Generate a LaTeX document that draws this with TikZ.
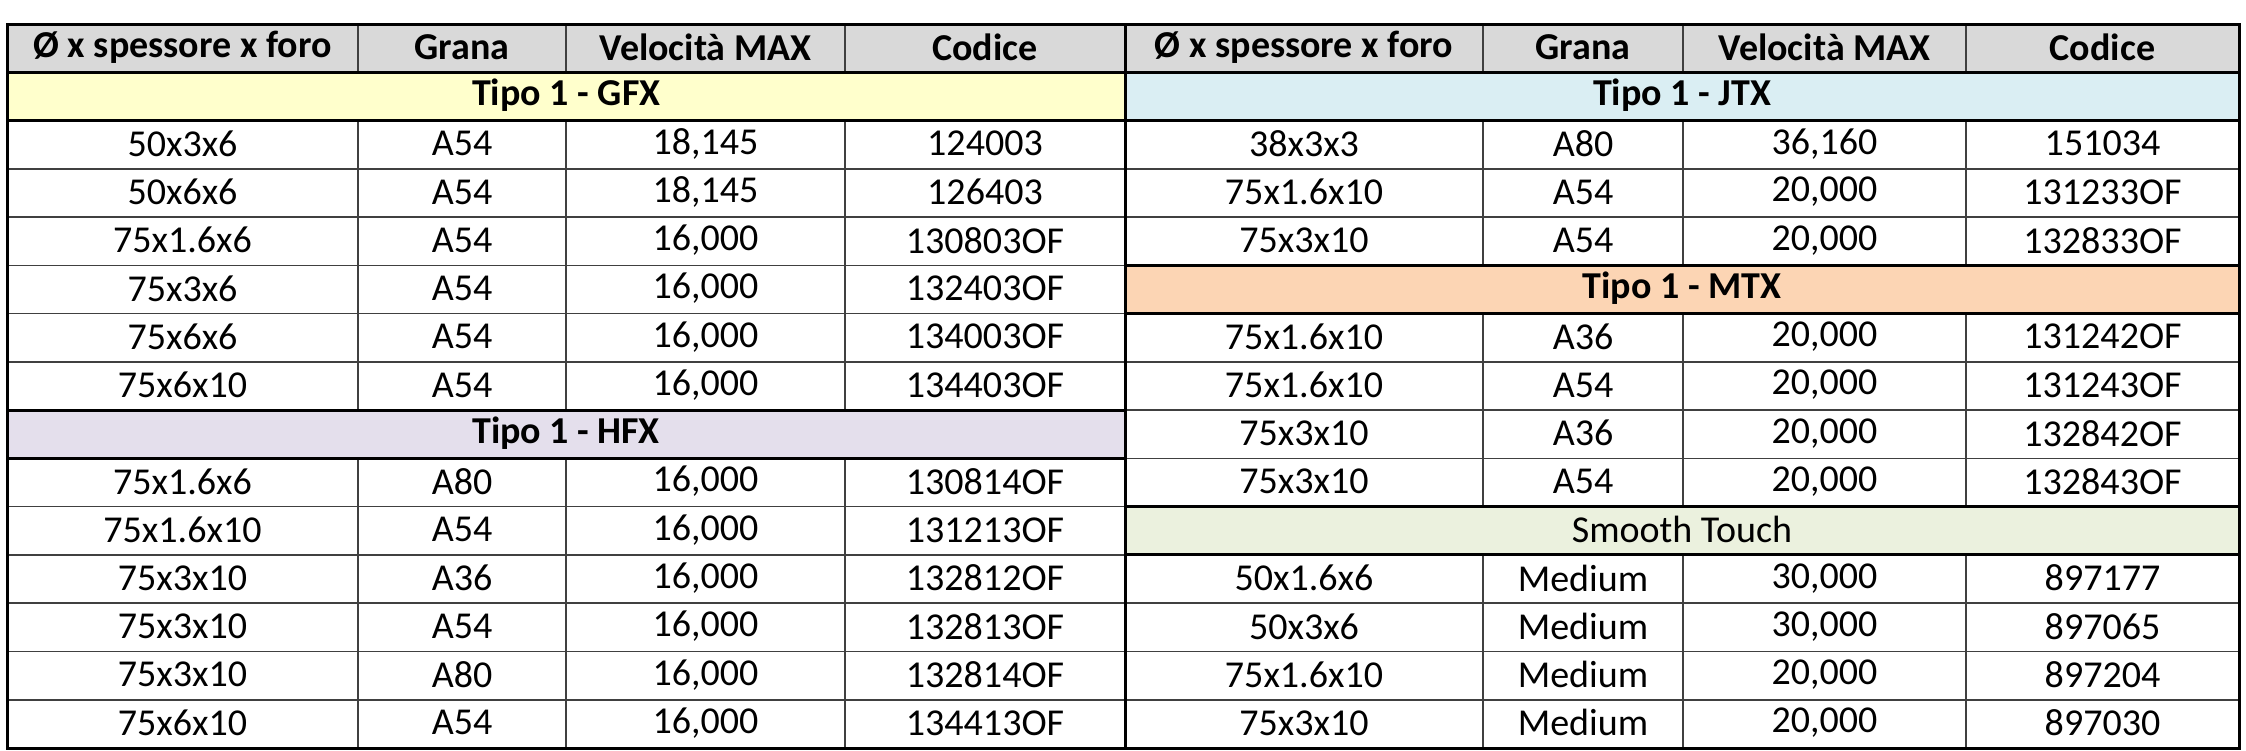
\documentclass[tikz,border=0pt]{standalone}
\usepackage{fontspec}
\setmainfont{Carlito}
\definecolor{cHdr}{HTML}{D9D9D9}
\definecolor{cGfx}{HTML}{FFFFCC}
\definecolor{cJtx}{HTML}{DAEEF3}
\definecolor{cHfx}{HTML}{E4DFEC}
\definecolor{cMtx}{HTML}{FCD5B4}
\definecolor{cSmt}{HTML}{EBF1DE}
\newcommand{\RH}{48.27}
\newcommand{\ry}[1]{(24+\RH*(#1))}
\newcommand{\mkrow}[6]{%
  \ifx L#1
    \node[cell] (#1#2a) at (182.5,{\ry{#2}+\RH/2}) {#3};
    \node[cell] (#1#2b) at (462,{\ry{#2}+\RH/2}) {#4};
    \node[cell] (#1#2c) at (705.5,{\ry{#2}+\RH/2}) {#5};
    \node[cell] (#1#2d) at (985,{\ry{#2}+\RH/2}) {#6};
  \else
    \node[cell] (#1#2a) at (1304,{\ry{#2}+\RH/2}) {#3};
    \node[cell] (#1#2b) at (1583,{\ry{#2}+\RH/2}) {#4};
    \node[cell] (#1#2c) at (1824.5,{\ry{#2}+\RH/2}) {#5};
    \node[cell] (#1#2d) at (2102.5,{\ry{#2}+\RH/2}) {#6};
  \fi}
\newcommand{\band}[4]{% x0, x1, row, color
  \path[fill=#4,draw=black,line width=3pt] (#1,{\ry{#3}}) rectangle (#2,{\ry{#3+1}});}
\begin{document}
\begin{tikzpicture}[x=1pt,y=-1pt,
  cell/.style={font=\fontsize{38}{40}\selectfont,inner sep=0pt,anchor=center,yshift=1pt},
  bcell/.style={cell,font=\fontsize{38}{40}\selectfont\bfseries},
  thin line/.style={line width=1.5pt,black!75},
  thick line/.style={line width=3pt,black}]
\useasboundingbox (0,0) rectangle (2246,750);
\fill[white] (0,0) rectangle (2246,750);
\fill[cHdr] (7,{\ry{0}}) rectangle (2239,{\ry{1}});
\foreach \i in {1,...,14} \draw[thin line] (7,{\ry{\i}}) -- (2239,{\ry{\i}});
\foreach \x in {358,566,845} \draw[thin line] (\x,{\ry{0}}) -- (\x,{\ry{15}});
\foreach \x in {1483,1683,1966} \draw[thin line] (\x,{\ry{0}}) -- (\x,{\ry{15}});
\band{7}{1125}{1}{cGfx}
\band{7}{1125}{8}{cHfx}
\band{1125}{2239}{1}{cJtx}
\band{1125}{2239}{5}{cMtx}
\band{1125}{2239}{10}{cSmt}
\node[bcell] (tgfx) at (566,{\ry{1}+\RH/2}) {Tipo 1 - GFX};
\node[bcell] (thfx) at (566,{\ry{8}+\RH/2}) {Tipo 1 - HFX};
\node[bcell] (tjtx) at (1682,{\ry{1}+\RH/2}) {Tipo 1 - JTX};
\node[bcell] (tmtx) at (1682,{\ry{5}+\RH/2}) {Tipo 1 - MTX};
\node[cell] (tsmt) at (1682,{\ry{10}+\RH/2}) {Smooth Touch};
\draw[thick line] (7,{\ry{0}}) rectangle (2239,{\ry{15}});
\draw[thick line] (1125,{\ry{0}}) -- (1125,{\ry{15}});
\node[bcell] (hLa) at (182.5,{\ry{0}+\RH/2}) {Ø x spessore x foro};
\node[bcell] (hLb) at (462,{\ry{0}+\RH/2}) {Grana};
\node[bcell] (hLc) at (705.5,{\ry{0}+\RH/2}) {Velocità MAX};
\node[bcell] (hLd) at (985,{\ry{0}+\RH/2}) {Codice};
\node[bcell] (hRa) at (1304,{\ry{0}+\RH/2}) {Ø x spessore x foro};
\node[bcell] (hRb) at (1583,{\ry{0}+\RH/2}) {Grana};
\node[bcell] (hRc) at (1824.5,{\ry{0}+\RH/2}) {Velocità MAX};
\node[bcell] (hRd) at (2102.5,{\ry{0}+\RH/2}) {Codice};
\mkrow{L}{2}{50x3x6}{A54}{18,145}{124003}
\mkrow{L}{3}{50x6x6}{A54}{18,145}{126403}
\mkrow{L}{4}{75x1.6x6}{A54}{16,000}{130803OF}
\mkrow{L}{5}{75x3x6}{A54}{16,000}{132403OF}
\mkrow{L}{6}{75x6x6}{A54}{16,000}{134003OF}
\mkrow{L}{7}{75x6x10}{A54}{16,000}{134403OF}
\mkrow{L}{9}{75x1.6x6}{A80}{16,000}{130814OF}
\mkrow{L}{10}{75x1.6x10}{A54}{16,000}{131213OF}
\mkrow{L}{11}{75x3x10}{A36}{16,000}{132812OF}
\mkrow{L}{12}{75x3x10}{A54}{16,000}{132813OF}
\mkrow{L}{13}{75x3x10}{A80}{16,000}{132814OF}
\mkrow{L}{14}{75x6x10}{A54}{16,000}{134413OF}
\mkrow{R}{2}{38x3x3}{A80}{36,160}{151034}
\mkrow{R}{3}{75x1.6x10}{A54}{20,000}{131233OF}
\mkrow{R}{4}{75x3x10}{A54}{20,000}{132833OF}
\mkrow{R}{6}{75x1.6x10}{A36}{20,000}{131242OF}
\mkrow{R}{7}{75x1.6x10}{A54}{20,000}{131243OF}
\mkrow{R}{8}{75x3x10}{A36}{20,000}{132842OF}
\mkrow{R}{9}{75x3x10}{A54}{20,000}{132843OF}
\mkrow{R}{11}{50x1.6x6}{Medium}{30,000}{897177}
\mkrow{R}{12}{50x3x6}{Medium}{30,000}{897065}
\mkrow{R}{13}{75x1.6x10}{Medium}{20,000}{897204}
\mkrow{R}{14}{75x3x10}{Medium}{20,000}{897030}
\end{tikzpicture}
\end{document}
